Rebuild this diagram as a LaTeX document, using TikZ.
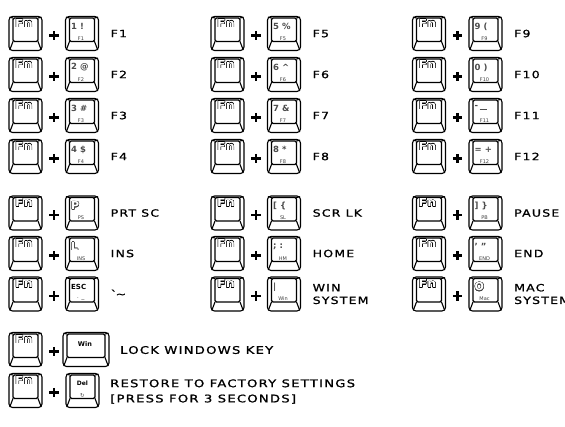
\documentclass[tikz,border=0pt]{standalone}
\usepackage{fontspec}
\usepackage{contour}
\contourlength{0.35pt}
\newfontfamily\labfont{DejaVu Sans}[FakeStretch=1.25,LetterSpace=12,FakeBold=1.2]
\newfontfamily\kfont{DejaVu Sans}
\newfontfamily\fnfam{DejaVu Sans}[FakeStretch=1.15]
\tikzset{
  keyline/.style={line width=1.1pt, black},
  pics/keycap/.style={code={
    \draw[keyline,rounded corners=3.5pt] (-#1,-17) rectangle (#1,17);
    \draw[keyline,rounded corners=1.5pt] (-#1+4,-15.5) rectangle (#1-4,8);
    \draw[keyline,line cap=round] (-#1+4,8) -- (-#1+0.9,16.1) (#1-4,8) -- (#1-0.9,16.1)
      (-#1+4,-15.5) -- (-#1+0.8,-16.3) (#1-4,-15.5) -- (#1-0.8,-16.3);
  }},
  pics/keycap/.default=16.5,
  fnglyph/.style={inner sep=0pt, font=\fnfam\bfseries\fontsize{11}{11}\selectfont},
  topglyph/.style={inner sep=0pt, anchor=west, text=black!70, font=\kfont\bfseries\fontsize{8.5}{9}\selectfont},
  subglyph/.style={inner sep=0pt, text=black!75, font=\kfont\fontsize{5}{5}\selectfont},
  labnode/.style={inner sep=0pt, anchor=west, text height=7.3pt, text depth=0pt, font=\labfont\fontsize{10}{12}\selectfont},
  biglab/.style={labnode, text height=7.7pt, font=\labfont\fontsize{10.5}{12}\selectfont},
  plusnode/.style={inner sep=0pt, minimum width=9pt, minimum height=9pt},
  plusline/.style={line width=2.3pt},
}
\newcommand\fnkey[3]{% name, x, y
  \pic at (#2,#3) {keycap};
  \node[fnglyph] (#1fn) at (#2-1.5,#3-10) {\contour{black}{\textcolor{white}{Fn}}};
  \node[plusnode] (#1plus) at (#2+28.5,#3+2) {};
  \draw[plusline] (#1plus.north) -- (#1plus.south) (#1plus.west) -- (#1plus.east);
}
\newcommand\kbcombo[6]{% name, x, y, top, sub, label
  \fnkey{#1}{#2}{#3}
  \pic at (#2+56.5,#3) {keycap};
  \node[topglyph] (#1top) at (#2+45.5,#3-7) {#4};
  \node[subglyph] (#1sub) at (#2+55.5,#3+5) {#5};
  \node[labnode] (#1lab) at (#2+85,#3) {#6};
}
\newcommand\outl[1]{\contour{black!75}{\textcolor{white}{#1}}}
\begin{document}
\begin{tikzpicture}[x=1pt,y=-1pt]
\fill[white] (0,0) rectangle (565,426);
\useasboundingbox (0,0) rectangle (565,426);
% column 1
\kbcombo{fa}{25.5}{33.5}{1 !}{F1}{F1}
\kbcombo{fb}{25.5}{74.5}{2 @}{F2}{F2}
\kbcombo{fc}{25.5}{115.5}{3 \#}{F3}{F3}
\kbcombo{fd}{25.5}{156.5}{4 \$}{F4}{F4}
% column 2
\kbcombo{fe}{227.5}{33.5}{5 \%}{F5}{F5}
\kbcombo{ff}{227.5}{74.5}{6 \textasciicircum}{F6}{F6}
\kbcombo{fg}{227.5}{115.5}{7 \&}{F7}{F7}
\kbcombo{fh}{227.5}{156.5}{8 *}{F8}{F8}
% column 3
\kbcombo{fi}{429}{33.5}{9 (}{F9}{F9}
\kbcombo{fj}{429}{74.5}{0 )}{F10}{F10}
\kbcombo{fk}{429}{115.5}{\raisebox{2.5pt}{-}\hspace{1.5pt}\rule[1.5pt]{7pt}{1.2pt}}{F11}{F11}
\kbcombo{fl}{429}{156.5}{= +}{F12}{F12}
% section 2
\kbcombo{sa}{25.5}{213}{\fontsize{11}{11}\selectfont\outl{P}}{PS}{PRT SC}
\kbcombo{sb}{25.5}{253.5}{\fontsize{11}{11}\selectfont\outl{L}}{INS}{INS}
\kbcombo{sc}{25.5}{294}{\textcolor{black}{\fontsize{7}{7}\selectfont ESC}}{\textasciigrave\ \textasciitilde}{\textasciigrave\textasciitilde}
\kbcombo{sd}{227.5}{213}{[ \{}{SL}{SCR LK}
\kbcombo{se}{227.5}{253.5}{; :}{HM}{HOME}
\kbcombo{sf}{227.5}{294}{|}{Win}{}
\node[labnode] (sflab1) at (312.5,287.7) {WIN};
\node[labnode] (sflab2) at (312.5,300.3) {SYSTEM};
\kbcombo{sg}{429}{213}{] \}}{PB}{PAUSE}
\kbcombo{sh}{429}{253.5}{’ ”}{END}{END}
\kbcombo{si}{429}{294}{\fontsize{11}{11}\selectfont\outl{O}}{Mac}{}
\node[labnode] (silab1) at (514,287.7) {MAC};
\node[labnode] (silab2) at (514,300.3) {SYSTEM};
% bottom rows
\fnkey{ba}{25.5}{349.5}
\pic at (86,349.5) {keycap=23};
\node[inner sep=0pt, font=\kfont\bfseries\fontsize{6.5}{7}\selectfont] (batop) at (85,344) {Win};
\node[biglab] (balab) at (120,350) {LOCK WINDOWS KEY};
\fnkey{bb}{25.5}{390.5}
\pic at (82.5,390.5) {keycap};
\node[inner sep=0pt, font=\kfont\bfseries\fontsize{6}{6}\selectfont] (bbtop) at (82.5,383.5) {Del};
\node[inner sep=0pt, text=black!75, font=\kfont\fontsize{5.5}{5.5}\selectfont] (bbsub) at (82.5,395.5) {↻};
\node[biglab] (bblab1) at (110,383.3) {RESTORE TO FACTORY SETTINGS};
\node[biglab] (bblab2) at (110,398.5) {[PRESS FOR 3 SECONDS]};
\end{tikzpicture}
\end{document}
